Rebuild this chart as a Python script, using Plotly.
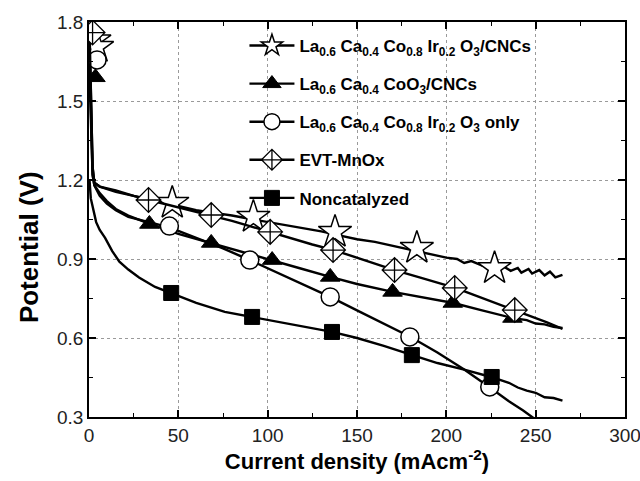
import plotly.graph_objects as go

# ---------------- data ----------------
names = [
    "La<sub>0.6</sub> Ca<sub>0.4</sub> Co<sub>0.8</sub> Ir<sub>0.2</sub> O<sub>3</sub>/CNCs",
    "La<sub>0.6</sub> Ca<sub>0.4</sub> CoO<sub>3</sub>/CNCs",
    "La<sub>0.6</sub> Ca<sub>0.4</sub> Co<sub>0.8</sub> Ir<sub>0.2</sub> O<sub>3</sub> only",
    "EVT-MnOx",
    "Noncatalyzed",
]

star_j = [0.3, 0.8, 1.3, 2, 3, 6, 15, 25, 35, 47, 60, 70, 80, 92, 105, 118, 130, 140, 150, 160,
          170, 180, 190, 200, 206, 210, 214, 220, 224, 228, 232, 236, 240, 242, 246, 248, 252, 255, 258, 261, 265]
star_v = [1.76, 1.6, 1.4, 1.25, 1.19, 1.175, 1.16, 1.14, 1.125, 1.105, 1.085, 1.075, 1.065, 1.05, 1.035, 1.02, 1.005, 0.99, 0.975, 0.965,
          0.95, 0.935, 0.92, 0.905, 0.9, 0.885, 0.892, 0.875, 0.878, 0.865, 0.872, 0.855, 0.866, 0.848, 0.862, 0.845, 0.858, 0.838, 0.852, 0.83, 0.84]
star_mj = [3, 4.5, 46.6, 92, 137.7, 183.5, 227]
star_mv = [1.73, 1.705, 1.113, 1.06, 1.003, 0.942, 0.865]

tri_j = [0.3, 0.8, 1.3, 2, 3, 6, 10, 15, 22, 34, 50, 68, 85, 102, 118, 135, 150, 170, 187, 204, 220, 237, 245, 250, 255, 260, 265]
tri_v = [1.6, 1.5, 1.35, 1.22, 1.18, 1.15, 1.12, 1.09, 1.065, 1.033, 0.995, 0.961, 0.93, 0.896, 0.865, 0.832, 0.805, 0.775, 0.755, 0.733, 0.705, 0.676, 0.668, 0.655, 0.652, 0.642, 0.638]
tri_mj = [3.6, 33.8, 68.4, 102.5, 135, 169.9, 203.6, 237]
tri_mv = [1.59, 1.033, 0.961, 0.896, 0.832, 0.775, 0.733, 0.676]

cir_j = [0.3, 0.8, 1.3, 2, 3, 6, 10, 15, 22, 33, 45, 60, 75, 90, 105, 120, 135, 150, 165, 180, 195, 210, 224, 235, 243, 249]
cir_v = [1.68, 1.55, 1.38, 1.22, 1.18, 1.14, 1.11, 1.085, 1.06, 1.04, 1.02, 0.98, 0.94, 0.896, 0.85, 0.805, 0.756, 0.705, 0.655, 0.604, 0.545, 0.48, 0.414, 0.36, 0.325, 0.295]
cir_mj = [4.5, 45, 90, 135, 179.6, 224.3]
cir_mv = [1.656, 1.025, 0.896, 0.756, 0.604, 0.414]

dia_j = [0.3, 0.8, 1.3, 2, 3, 6, 15, 25, 33, 45, 55, 68, 80, 90, 101, 115, 125, 137, 150, 160, 171, 185, 195, 205, 215, 225, 238, 248, 256, 265]
dia_v = [1.77, 1.6, 1.4, 1.25, 1.19, 1.175, 1.155, 1.14, 1.125, 1.105, 1.087, 1.067, 1.045, 1.025, 1.003, 0.975, 0.955, 0.934, 0.905, 0.882, 0.858, 0.83, 0.81, 0.79, 0.765, 0.74, 0.706, 0.68, 0.66, 0.635]
dia_mj = [2, 33.3, 68.4, 101.4, 136.6, 171, 204.7, 238.3]
dia_mv = [1.76, 1.124, 1.067, 1.003, 0.934, 0.858, 0.79, 0.706]

sq_j = [0.3, 1, 2, 4, 6, 9, 13, 17, 22, 28, 37, 46, 60, 76, 91, 105, 120, 136, 150, 165, 181, 195, 210, 225, 235, 240, 245, 250, 255, 260, 265]
sq_v = [1.2, 1.13, 1.1, 1.04, 1.01, 0.98, 0.93, 0.89, 0.86, 0.83, 0.794, 0.771, 0.733, 0.699, 0.68, 0.665, 0.645, 0.623, 0.6, 0.57, 0.535, 0.505, 0.48, 0.452, 0.43, 0.412, 0.4, 0.392, 0.375, 0.372, 0.362]
sq_mj = [46, 91.3, 136, 180.7, 225.4]
sq_mv = [0.771, 0.68, 0.623, 0.535, 0.452]

x_ticks = [0, 50, 100, 150, 200, 250, 300]
y_ticks = [0.3, 0.6, 0.9, 1.2, 1.5, 1.8]

# ---------------- figure ----------------
series = [
    (star_j, star_v, star_mj, star_mv, dict(symbol="star", size=25, color="white", line=dict(color="black", width=1.5))),
    (tri_j, tri_v, tri_mj, tri_mv, dict(symbol="triangle-up", size=17, color="black", line=dict(color="black", width=1))),
    (cir_j, cir_v, cir_mj, cir_mv, dict(symbol="circle", size=18, color="white", line=dict(color="black", width=1.5))),
    (dia_j, dia_v, dia_mj, dia_mv, dict(symbol="diamond-cross", size=19, color="white", line=dict(color="black", width=1.3))),
    (sq_j, sq_v, sq_mj, sq_mv, dict(symbol="square", size=15, color="black", line=dict(color="black", width=1))),
]

fig = go.Figure()
for name, (lj, lv, mj, mv, mk) in zip(names, series):
    fig.add_trace(go.Scatter(x=lj, y=lv, mode="lines", line=dict(color="black", width=2.4),
                             showlegend=False, hoverinfo="skip"))
    fig.add_trace(go.Scatter(x=mj, y=mv, mode="markers", marker=mk, showlegend=False, cliponaxis=True))

for i, (name, (lj, lv, mj, mv, mk)) in enumerate(zip(names, series)):
    fig.add_trace(go.Scatter(x=[None], y=[None], mode="lines+markers", name="<b>" + name + "</b>",
                             legendgroup=f"g{i}",
                             line=dict(color="black", width=2.4), marker=mk))

font_fam = "Liberation Sans, Arial"
axis_common = dict(
    showline=True, linecolor="black", linewidth=1.5, mirror="ticks",
    ticks="inside", ticklen=7, tickwidth=1.5, tickcolor="black",
    showgrid=True, gridcolor="#9a9a9a", griddash="dot", gridwidth=1,
    zeroline=False, tickfont=dict(family=font_fam, size=19, color="#222"),
    ticklabeloverflow="allow",
)

fig.update_xaxes(range=[0, 300], tickvals=x_ticks, ticktext=[str(v) for v in x_ticks],
                 minor=dict(ticks="inside", ticklen=4, tickwidth=1.2, tickcolor="black", dtick=25, tick0=0, showgrid=False),
                 title=dict(text="<b>Current density (mAcm<sup>-2</sup>)</b>", font=dict(family=font_fam, size=22, color="black"), standoff=6),
                 **axis_common)
fig.update_yaxes(range=[0.3, 1.8], tickvals=y_ticks, ticktext=[f"{v:.1f}" for v in y_ticks],
                 minor=dict(ticks="inside", ticklen=4, tickwidth=1.2, tickcolor="black", dtick=0.15, tick0=0.3, showgrid=False),
                 **axis_common)

fig.add_annotation(text="<b>Potential (V)</b>", textangle=-90, xref="paper", yref="paper",
                   x=-0.112, y=0.43, xanchor="center", yanchor="middle", showarrow=False,
                   font=dict(family=font_fam, size=26, color="black"))

fig.update_layout(
    width=640, height=481,
    margin=dict(l=89, r=15, t=22, b=64, autoexpand=False),
    plot_bgcolor="white", paper_bgcolor="white",
    showlegend=True,
    legend=dict(x=0.29, y=0.985, xanchor="left", yanchor="top", bgcolor="rgba(0,0,0,0)",
                font=dict(family=font_fam, size=17, color="black"),
                itemwidth=45, tracegroupgap=13, traceorder="grouped"),
)

fig.write_html("out.html", config={"displayModeBar": False},
               post_script="document.body.style.margin='0';document.body.style.padding='0';")
